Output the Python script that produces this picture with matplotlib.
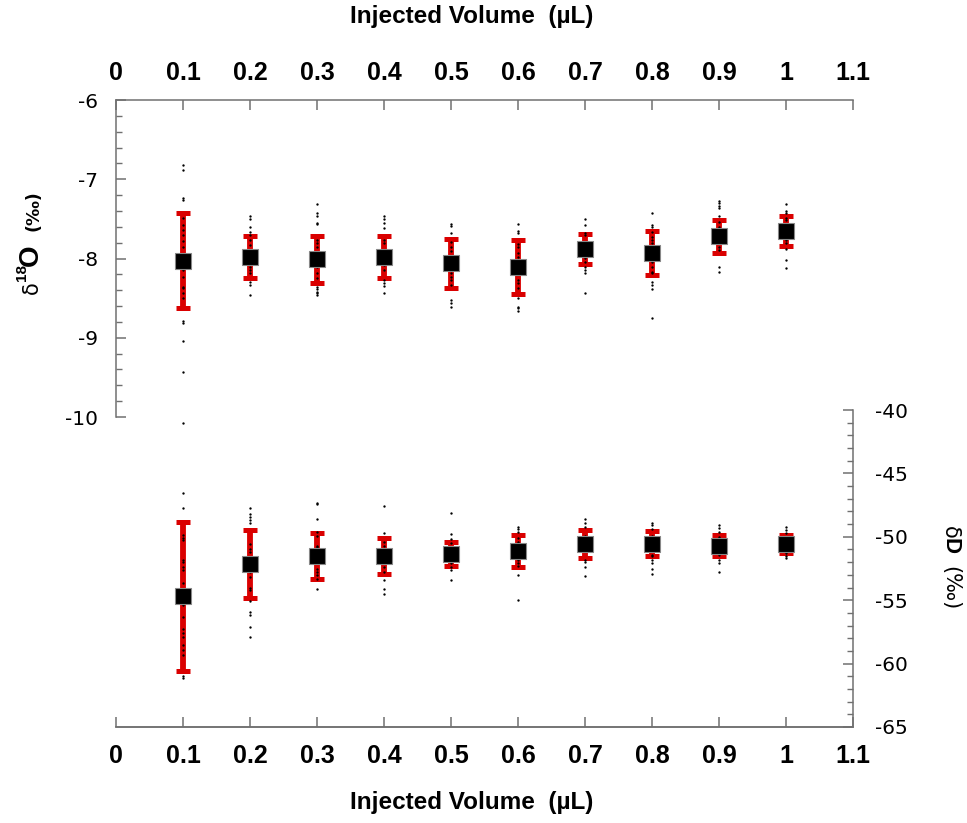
import numpy as np
import matplotlib
matplotlib.use("Agg")
import matplotlib.pyplot as plt

plt.rcParams["axes.unicode_minus"] = False

# injected volumes (uL)
volumes = [0.1, 0.2, 0.3, 0.4, 0.5, 0.6, 0.7, 0.8, 0.9, 1.0]

# d18O mean and 1-sigma
d18o_mean = [-8.03, -7.98, -8.01, -7.98, -8.06, -8.11, -7.88, -7.93, -7.72, -7.65]
d18o_sd = [0.60, 0.27, 0.30, 0.26, 0.31, 0.34, 0.19, 0.28, 0.21, 0.19]

# dD mean and 1-sigma
dd_mean = [-54.70, -52.14, -51.51, -51.51, -51.36, -51.12, -50.57, -50.54, -50.70, -50.57]
dd_sd = [5.85, 2.65, 1.80, 1.40, 0.95, 1.25, 1.10, 1.00, 0.85, 0.70]

# individual injections, d18O
d18o_pts = [
    [-6.82, -6.88, -7.24, -7.26, -7.49, -7.58, -7.64, -7.70, -7.78, -7.85, -8.15, -8.23,
     -8.36, -8.37, -8.44, -8.50, -8.79, -8.81, -9.04, -9.43, -10.07],
    [-7.46, -7.50, -7.60, -7.67, -7.70, -7.77, -7.83, -7.93, -8.11, -8.15, -8.18, -8.30, -8.33, -8.46],
    [-7.31, -7.43, -7.46, -7.55, -7.57, -7.77, -7.80, -7.85, -8.11, -8.18, -8.24,
     -8.36, -8.39, -8.42, -8.44, -8.46],
    [-7.46, -7.50, -7.55, -7.62, -7.77, -7.80, -8.08, -8.15, -8.27, -8.31, -8.35, -8.43],
    [-7.56, -7.59, -7.68, -7.79, -7.85, -7.91, -8.18, -8.23, -8.27, -8.33, -8.52, -8.56, -8.61],
    [-7.56, -7.65, -7.68, -7.82, -7.85, -7.93, -7.98, -8.27, -8.31, -8.37, -8.50, -8.61, -8.62, -8.66],
    [-7.50, -7.58, -7.68, -7.70, -7.99, -8.04, -8.11, -8.15, -8.18, -8.43],
    [-7.43, -7.58, -7.60, -7.67, -7.73, -7.77, -7.80, -8.04, -8.11, -8.17, -8.18, -8.30, -8.33, -8.38, -8.75],
    [-7.27, -7.30, -7.34, -7.36, -7.46, -7.54, -7.60, -7.85, -7.89, -8.11, -8.17],
    [-7.31, -7.40, -7.43, -7.49, -7.52, -7.68, -7.77, -7.80, -7.88, -8.02, -8.12],
]

# individual injections, dD
dd_pts = [
    [-46.52, -47.75, -49.86, -50.09, -50.25, -51.83, -51.99, -52.38, -52.62, -53.64, -54.2, -55.4,
     -56.3, -57.3, -57.6, -57.9, -58.5, -58.9, -59.3, -61.0, -61.1],
    [-47.7, -48.2, -48.4, -48.7, -48.9, -50.6, -51.0, -51.2, -52.8, -53.2, -54.0, -54.2,
     -55.1, -55.9, -56.2, -57.1, -57.9],
    [-47.3, -47.4, -48.6, -49.6, -49.9, -50.7, -50.8, -52.5, -52.8, -53.0, -53.3, -54.1],
    [-47.6, -49.7, -50.4, -50.7, -51.0, -52.4, -52.8, -53.4, -54.1, -54.5],
    [-48.1, -49.8, -50.2, -50.5, -51.7, -52.1, -52.4, -52.6, -53.4],
    [-49.2, -49.4, -49.6, -50.1, -50.4, -51.8, -52.1, -52.3, -53.0, -55.0],
    [-48.6, -48.9, -49.2, -49.9, -50.3, -51.8, -52.0, -52.4, -53.1],
    [-48.9, -49.1, -49.4, -49.9, -50.3, -51.4, -51.5, -51.8, -52.1, -52.5, -52.9],
    [-49.1, -49.3, -49.6, -50.0, -51.0, -51.4, -51.8, -52.1, -52.8],
    [-49.2, -49.5, -49.7, -50.0, -51.0, -51.3, -51.5, -51.7],
]

xtick_vals = [0, 0.1, 0.2, 0.3, 0.4, 0.5, 0.6, 0.7, 0.8, 0.9, 1.0, 1.1]
xtick_text = ["0", "0.1", "0.2", "0.3", "0.4", "0.5", "0.6", "0.7", "0.8", "0.9", "1", "1.1"]

red = "#da0000"
grey = "#707070"

fig = plt.figure(figsize=(9.67, 8.23), dpi=100)
W, H = 967.0, 823.0
x0, x1, ytop, ybot = 116, 853, 100, 727
ax1 = fig.add_axes([x0 / W, 1 - ybot / H, (x1 - x0) / W, (ybot - ytop) / H])
ax2 = ax1.twinx()

# left scale: -6 at top, -10 at y=417 px
ppu1 = (417 - ytop) / 4.0
ax1.set_ylim(-6 - (ybot - ytop) / ppu1, -6)
# right scale: -40 at y=410 px, -65 at bottom
ppu2 = (ybot - 410) / 25.0
ax2.set_ylim(-65, -65 + (ybot - ytop) / ppu2)
ax1.set_xlim(0, 1.1)

def draw(ax, means, sds, pts):
    ax.errorbar(volumes, means, yerr=sds, fmt="none", ecolor=red, elinewidth=4.2,
                capsize=5, capthick=3.6, zorder=2)
    for v, p in zip(volumes, pts):
        ax.plot([v] * len(p), p, "o", ms=1.7, color="black", mew=0, zorder=3)
    ax.plot(volumes, means, "s", ms=11.5, color="black", mec="#888888", mew=0.8, zorder=4)

draw(ax1, d18o_mean, d18o_sd, d18o_pts)
draw(ax2, dd_mean, dd_sd, dd_pts)

for ax in (ax1, ax2):
    for s in ax.spines.values():
        s.set_color(grey)
        s.set_linewidth(1.1)
    ax.spines["top"].set_visible(False)

ax1.spines["right"].set_visible(False)
ax2.spines["left"].set_visible(False)
ax1.spines["left"].set_bounds(-10, -6)
ax2.spines["right"].set_bounds(-65, -40)

# y ticks
ax1.set_yticks(range(-10, -5))
ax1.set_yticks(np.arange(-10, -6, 0.2), minor=True)
ax1.tick_params(axis="y", which="major", direction="in", length=7, width=1.1, color=grey,
                pad=13, labelsize=14.5)
ax1.tick_params(axis="y", which="minor", direction="in", length=4, width=1.0, color=grey)
ax2.set_yticks(range(-65, -39, 5))
ax2.set_yticks(range(-65, -39, 1), minor=True)
ax2.tick_params(axis="y", which="major", direction="in", length=7, width=1.1, color=grey,
                pad=16, labelsize=14.5)
ax2.tick_params(axis="y", which="minor", direction="in", length=4, width=1.0, color=grey)

# x ticks bottom
ax1.set_xticks(xtick_vals)
ax1.set_xticklabels(xtick_text, fontweight="bold", fontsize=18, family="Liberation Sans")
ax1.tick_params(axis="x", direction="in", length=7, width=1.1, color=grey, pad=12)

# x ticks top
sec = ax1.secondary_xaxis("top")
sec.spines["top"].set_color(grey)
sec.spines["top"].set_linewidth(1.1)
sec.set_xticks(xtick_vals)
sec.set_xticklabels(xtick_text, fontweight="bold", fontsize=18, family="Liberation Sans")
sec.tick_params(axis="x", direction="in", length=7, width=1.1, color=grey, pad=11)

# axis titles
fig.text(472 / W, 1 - 17 / H, "Injected Volume  (\u00b5L)", ha="center", va="center",
         fontsize=17.5, fontweight="bold", family="Liberation Sans")
fig.text(472 / W, 1 - 802 / H, "Injected Volume  (\u00b5L)", ha="center", va="center",
         fontsize=17.5, fontweight="bold", family="Liberation Sans")

# left title, built from pieces
def vtext(x, y, s, rot, **kw):
    fig.text(x / W, 1 - y / H, s, rotation=rot, rotation_mode="anchor",
             ha="left", va="baseline", **kw)

vtext(38, 294, "δ", 90, fontsize=15)
vtext(26, 281, "18", 90, fontsize=11, fontweight="bold", family="Liberation Sans")
vtext(38, 266, "O", 90, fontsize=20, fontweight="bold", family="Liberation Sans")
vtext(38, 231, "(‰)", 90, fontsize=12.5, fontweight="bold")

# right title
vtext(944, 526, "δ", -90, fontsize=15)
vtext(944, 538, "D", -90, fontsize=16, fontweight="bold", family="Liberation Sans")
vtext(944, 566, "(‰)", -90, fontsize=15)

fig.savefig("out.png", dpi=100)
